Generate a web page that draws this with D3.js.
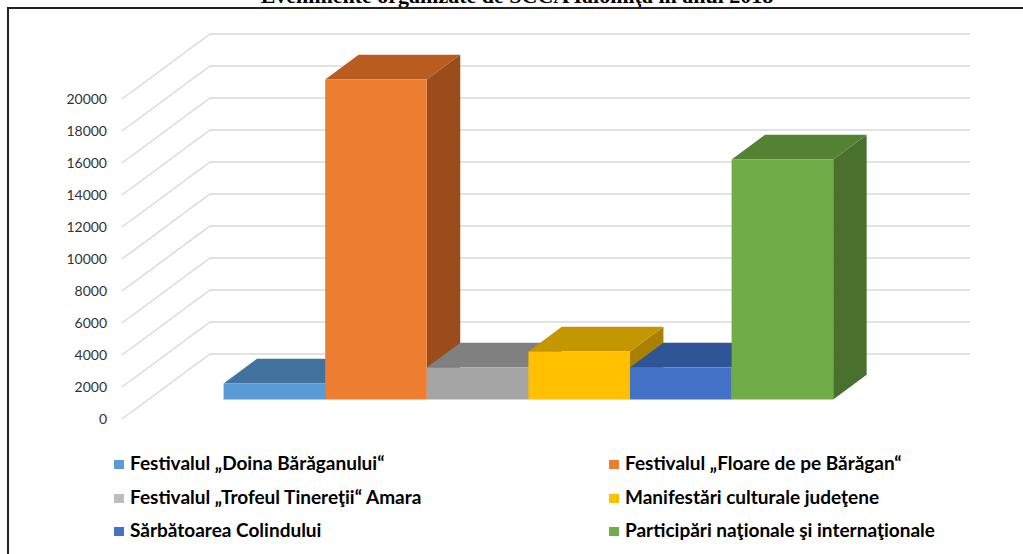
<!DOCTYPE html>
<html>
<head>
<meta charset="utf-8">
<script src="https://cdn.jsdelivr.net/npm/d3@7"></script>
<style>
  body { margin: 0; background: #fff; }
  svg { display: block; }
</style>
</head>
<body>
<div id="chart"></div>
<script>
'use strict';

// date
var seriesNames = [
    'Festivalul „Doina Bărăganului“',
    'Festivalul „Floare de pe Bărăgan“',
    'Festivalul „Trofeul Tinereţii“ Amara',
    'Manifestări culturale judeţene',
    'Sărbătoarea Colindului',
    'Participări naţionale şi internaţionale'
];
var seriesValues = [1000, 20000, 2000, 3000, 2000, 15000];
var frontColors = ['#5b9bd5', '#ed7d31', '#a5a5a5', '#ffc000', '#4472c4', '#70ad47'];
var topColors   = ['#41719c', '#b85c20', '#808080', '#c49600', '#2f5597', '#548235'];
var sideColors  = ['#3a6891', '#9a4c1a', '#6e6e6e', '#a98000', '#284a85', '#4a702d'];
var legendColors = ['#5b9bd5', '#ed7d31', '#bdbdbd', '#ffc000', '#4472c4', '#70ad47'];
var titleText = 'Evenimente organizate de SCCA Ialomiţa în anul 2018';

var scope = {};
scope.cw = 1023;
scope.ch = 554;
scope.depth = {dx: 88, dy: -65};
scope.barFront = 0.3;
scope.barBack = 0.68;

scope.x = d3.scaleBand()
    .domain(seriesNames)
    .range([122, 882])
    .paddingInner(0)
    .paddingOuter(0.74);

scope.y = d3.scaleLinear()
    .domain([0, 20000])
    .range([419, 99]);

// proiectie oblica: x pe planul din fata, valoare, adancime 0..1
scope.proj = function(px, v, z) {
    return [px + z * scope.depth.dx, scope.y(v) + z * scope.depth.dy];
};

scope.poly = function(pts) {
    return pts.map(function(p) { return p[0] + ',' + p[1]; }).join(' ');
};

var svg = d3.select('#chart').append('svg')
    .attr('width', scope.cw)
    .attr('height', scope.ch);

// titlul (taiat sus, ca in original)
svg.append('text')
    .attr('x', 517)
    .attr('y', 3)
    .attr('text-anchor', 'middle')
    .style('font-family', '"Liberation Serif", "DejaVu Serif", serif')
    .style('font-weight', 'bold')
    .style('font-size', '22px')
    .attr('fill', '#000')
    .text(titleText);

// chenar
svg.append('rect')
    .attr('x', 8)
    .attr('y', 8)
    .attr('width', scope.cw + 20)
    .attr('height', scope.ch + 20)
    .attr('fill', 'none')
    .attr('stroke', '#222')
    .attr('stroke-width', 2);

var ticks = scope.y.ticks(10);
var x0 = scope.x.range()[0], x1 = scope.x.range()[1];

var grid = svg.append('g').attr('class', 'grid');
ticks.forEach(function(t) {
    var a = scope.proj(x0, t, 0), b = scope.proj(x0, t, 1), c = scope.proj(x1, t, 1);
    grid.append('polyline')
        .attr('points', scope.poly([a, b, c]))
        .attr('fill', 'none')
        .attr('stroke', '#d9d9d9')
        .attr('stroke-width', 1.5);
});

svg.append('g').selectAll('text')
    .data(ticks)
    .enter().append('text')
    .attr('x', 107)
    .attr('y', function(d) { return scope.y(d); })
    .attr('dy', '0.35em')
    .attr('text-anchor', 'end')
    .style('font-family', 'Lato, "Open Sans", sans-serif')
    .style('font-size', '14px')
    .attr('fill', '#333')
    .text(function(d) { return d; });

// coloane 3D
var bars = svg.append('g').attr('class', 'bars');
seriesNames.forEach(function(name, i) {
    var v = seriesValues[i];
    var xl = scope.x(name), xr = xl + scope.x.bandwidth();
    var zf = scope.barFront, zb = scope.barBack;
    var g = bars.append('g');

    g.append('polygon')
        .attr('points', scope.poly([
            scope.proj(xr, 0, zf), scope.proj(xr, v, zf),
            scope.proj(xr, v, zb), scope.proj(xr, 0, zb)]))
        .attr('fill', sideColors[i]);

    g.append('polygon')
        .attr('points', scope.poly([
            scope.proj(xl, v, zf), scope.proj(xr, v, zf),
            scope.proj(xr, v, zb), scope.proj(xl, v, zb)]))
        .attr('fill', topColors[i]);

    g.append('polygon')
        .attr('points', scope.poly([
            scope.proj(xl, 0, zf), scope.proj(xr, 0, zf),
            scope.proj(xr, v, zf), scope.proj(xl, v, zf)]))
        .attr('fill', frontColors[i]);
});

// legenda, 2 coloane
var legend = svg.append('g').attr('class', 'legend');
var colX = [114, 609];
var rowY = [470, 504, 537];
seriesNames.forEach(function(name, i) {
    var cx = colX[i % 2], cy = rowY[Math.floor(i / 2)];
    legend.append('rect')
        .attr('x', cx)
        .attr('y', cy - 10)
        .attr('width', 10)
        .attr('height', 9)
        .attr('fill', legendColors[i]);
    legend.append('text')
        .attr('x', cx + 16)
        .attr('y', cy)
        .style('font-family', 'Lato, "Open Sans", sans-serif')
        .style('font-weight', 'bold')
        .style('font-size', '19px')
        .attr('fill', '#000')
        .text(name);
});
</script>
</body>
</html>
